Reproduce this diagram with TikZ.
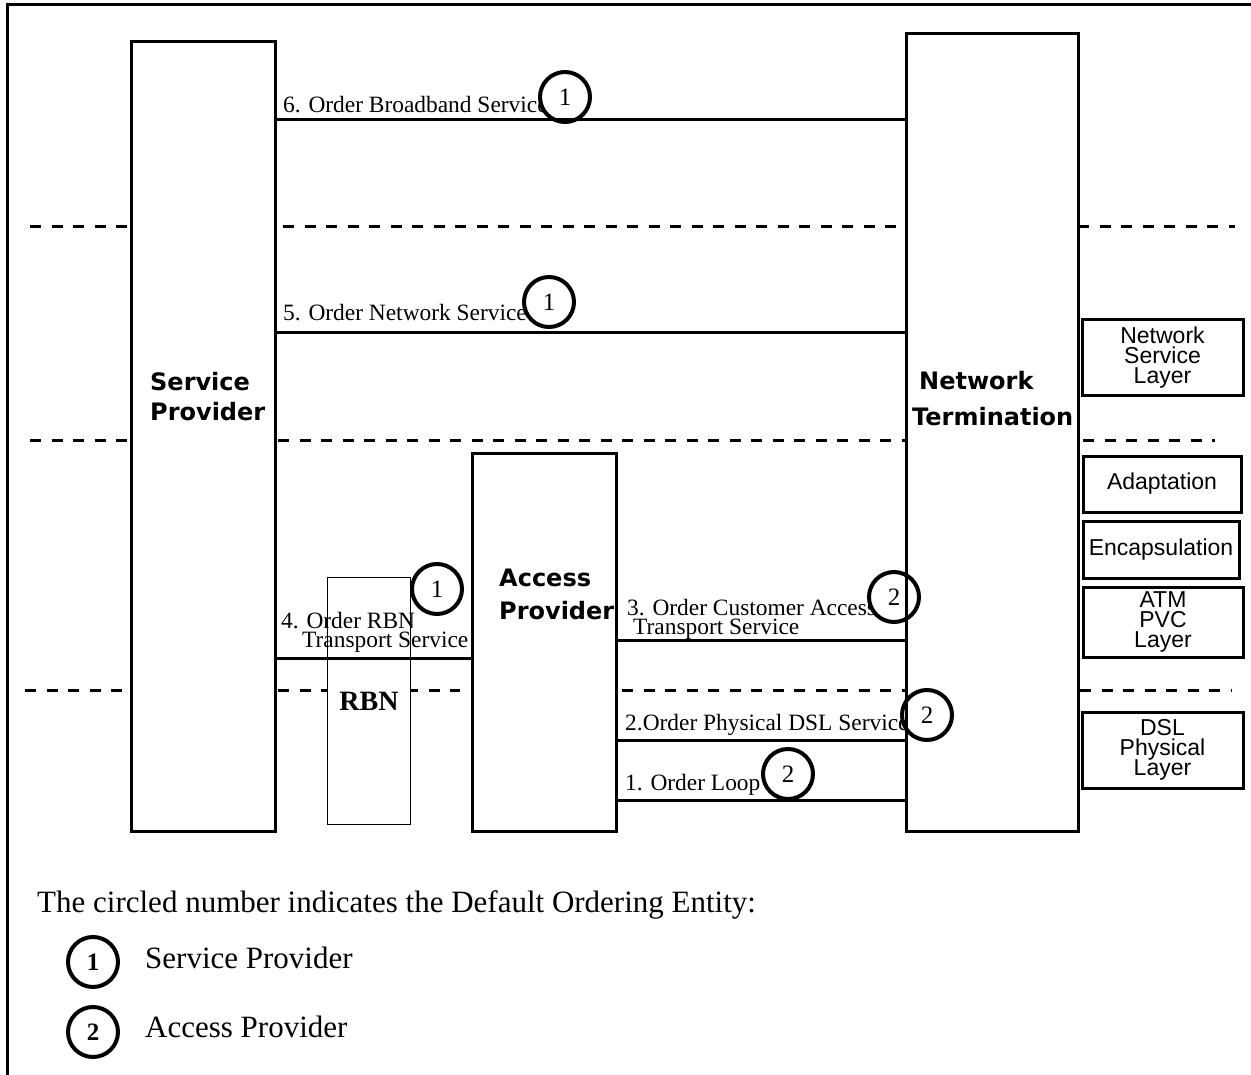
\documentclass[tikz,border=0pt]{standalone}
\usepackage{fontspec}
\setmainfont{Liberation Serif}
\newfontfamily\titlefont{DejaVu Sans}
\newfontfamily\layerfont{Liberation Sans}
\usetikzlibrary{positioning}
\lineskiplimit=-20pt

\begin{document}
\begin{tikzpicture}[
  x=1pt, y=-1pt,
  entity/.style={draw, line width=3pt, anchor=north west, inner sep=0pt},
  title/.style={anchor=north west, align=left, inner sep=0pt,
    font=\titlefont\bfseries\fontsize{24}{#1}\selectfont},
  layer/.style={draw, line width=3pt, align=center, inner sep=0pt,
    font=\layerfont\fontsize{23}{20}\selectfont},
  order/.style={line width=3pt},
  sep/.style={line width=3pt, dash pattern=on 11pt off 10.5pt},
  msg/.style={anchor=base west, align=left, inner sep=0pt,
    font=\fontsize{23.4}{19}\selectfont},
  oe/.style={circle, draw, line width=4pt, fill=white, minimum size=50pt,
    inner sep=0pt, font=\fontsize{25}{25}\selectfont},
  legend/.style={anchor=base west, inner sep=0pt, font=\fontsize{31}{36}\selectfont}
]
\useasboundingbox (0,0) rectangle (1251,1075);

% outer frame
\draw[line width=3pt] (7,1075) -- (7,5) -- (1251,5);

% layer separators
\foreach \xa/\xb/\y in {30/127/227, 283/905/227, 1078/1235/227,
                        30/127/440, 278/905/440, 1083/1215/440,
                        25/130/690, 278/460/690, 622/905/690, 1080/1232/690}
  \draw[sep] (\xa,\y) -- (\xb,\y);

% RBN
\node[entity, line width=1pt, fill=white, minimum width=83pt, minimum height=247pt,
  font=\bfseries\fontsize{28}{28}\selectfont] (rbn) at (327,577) {RBN};

% order messages
\node[msg] (m6) at (283,113) {6. Order Broadband Service};
\node[msg] (m5) at (283,321) {5. Order Network Service};
\node[msg, anchor=north west] (m4) at (281,612) {4. Order RBN\\\hspace*{21pt}Transport Service};
\node[msg, anchor=north west] (m3) at (627,599) {3. Order Customer Access\\\hspace*{6pt}Transport Service};
\node[msg] (m2) at (625,730) {2.Order Physical DSL Service};
\node[msg] (m1) at (625,790) {1. Order Loop};

% default ordering entity
\node[oe] (c6) at (565,97) {1};
\node[oe] (c5) at (549,302) {1};
\node[oe] (c4) at (437,589) {1};
\node[oe] (c3) at (894,597) {2};
\node[oe] (c2) at (927,715) {2};
\node[oe] (c1) at (788,774) {2};

% entities
\node[entity, minimum width=144pt, minimum height=790pt] (sp) at (130,40) {};
\node[entity, minimum width=172pt, minimum height=798pt] (nt) at (905,32) {};
\node[entity, minimum width=144pt, minimum height=378pt] (ap) at (471,452) {};
\node[title=30] (spt) at (150,372) {Service\\Provider};
\node[title=36] (ntt) at (912,371) {\hspace*{7pt}Network\\Termination};
\node[title=33] (apt) at (499,569) {Access\\Provider};

% layers
\node[layer, minimum width=161pt, minimum height=76pt] (nsl) at (1162.5,358) {Network\\Service\\Layer};
\node[layer, minimum width=158pt, minimum height=56pt] (adl) at (1162,484) {Adaptation};
\node[layer, minimum width=156pt, minimum height=57pt] (enc) at (1161,549.5) {Encapsulation};
\node[layer, minimum width=160pt, minimum height=70pt] (atm) at (1163,622) {ATM\\PVC\\Layer};
\node[layer, minimum width=161pt, minimum height=76pt] (dsl) at (1162.5,750) {DSL\\Physical\\Layer};

% orders
\draw[order] (sp.east |- 0,120) -- (nt.west |- 0,120);
\draw[order] (sp.east |- 0,333) -- (nt.west |- 0,333);
\draw[order] (sp.east |- 0,658) -- (ap.west |- 0,658);
\draw[order] (ap.east |- 0,640) -- (nt.west |- 0,640);
\draw[order] (ap.east |- 0,740) -- (nt.west |- 0,740);
\draw[order] (ap.east |- 0,800) -- (nt.west |- 0,800);

% legend
\node[legend] (leg) at (37,912) {The circled number indicates the Default Ordering Entity:};
\node[oe] (k1) at (93,962) {\textbf{1}};
\node[legend] (k1t) at (145,968) {Service Provider};
\node[oe] (k2) at (93,1032) {\textbf{2}};
\node[legend] (k2t) at (145,1037) {Access Provider};
\end{tikzpicture}
\end{document}
